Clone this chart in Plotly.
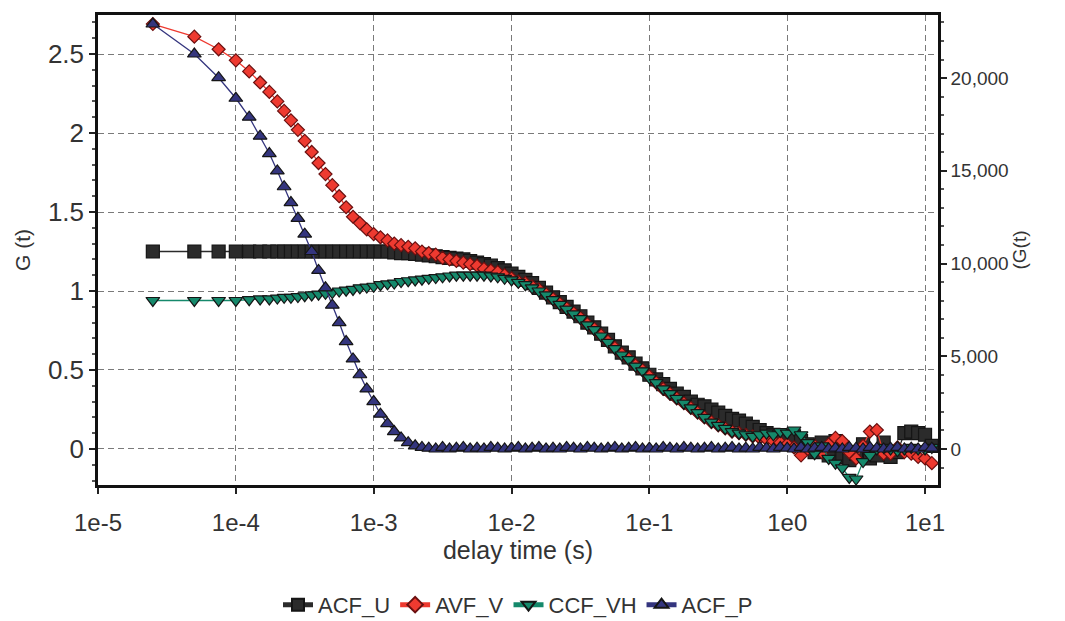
import plotly.graph_objects as go

# ---- data ----
delay_time = [2.5e-5, 5e-5, 7.5e-5, 1e-4, 1.25e-4, 1.5e-4, 1.75e-4, 2e-4,
              2.24e-4, 2.51e-4, 2.82e-4, 3.16e-4, 3.55e-4, 3.98e-4, 4.47e-4, 5.01e-4, 5.62e-4, 6.31e-4, 7.08e-4, 7.94e-4, 8.91e-4,
              1e-3, 1.12e-3, 1.26e-3, 1.41e-3, 1.58e-3, 1.78e-3, 2e-3, 2.24e-3, 2.51e-3, 2.82e-3, 3.16e-3, 3.55e-3, 3.98e-3, 4.47e-3, 5.01e-3, 5.62e-3, 6.31e-3, 7.08e-3, 7.94e-3, 8.91e-3,
              1e-2, 1.12e-2, 1.26e-2, 1.41e-2, 1.58e-2, 1.78e-2, 2e-2, 2.24e-2, 2.51e-2, 2.82e-2, 3.16e-2, 3.55e-2, 3.98e-2, 4.47e-2, 5.01e-2, 5.62e-2, 6.31e-2, 7.08e-2, 7.94e-2, 8.91e-2,
              1e-1, 1.12e-1, 1.26e-1, 1.41e-1, 1.58e-1, 1.78e-1, 2e-1, 2.24e-1, 2.51e-1, 2.82e-1, 3.16e-1, 3.55e-1, 3.98e-1, 4.47e-1, 5.01e-1, 5.62e-1, 6.31e-1, 7.08e-1, 7.94e-1, 8.91e-1,
              1.0, 1.12, 1.26, 1.41, 1.58, 1.78, 2.0, 2.24, 2.51, 2.82, 3.16, 3.55, 3.98, 4.47, 5.01, 5.62, 6.31, 7.08, 7.94, 8.91,
              10.0, 11.2]

acf_u = [1.25, 1.25, 1.25, 1.25, 1.25, 1.25, 1.25, 1.25,
         1.25, 1.25, 1.25, 1.25, 1.25, 1.25, 1.25, 1.25, 1.25, 1.25, 1.25, 1.25, 1.25,
         1.25, 1.25, 1.25, 1.245, 1.24, 1.24, 1.235, 1.23, 1.225, 1.22, 1.215, 1.21, 1.205, 1.20, 1.19, 1.18, 1.17, 1.16, 1.145, 1.13,
         1.11, 1.09, 1.07, 1.05, 1.02, 0.99, 0.96, 0.93, 0.90, 0.87, 0.84, 0.80, 0.77, 0.73, 0.69, 0.65, 0.61, 0.58, 0.54, 0.51,
         0.47, 0.44, 0.41, 0.38, 0.35, 0.33, 0.30, 0.28, 0.27, 0.25, 0.23, 0.21, 0.19, 0.18, 0.16, 0.14, 0.12, 0.10, 0.09, 0.07,
         0.06, 0.08, 0.05, 0.03, -0.02, 0.04, -0.04, 0.05, -0.05, -0.07, -0.03, 0.03, -0.06, -0.04, 0.04, -0.05, -0.02, 0.10, 0.11, 0.10,
         0.09, 0.02]

avf_v = [2.69, 2.61, 2.53, 2.46, 2.39, 2.32, 2.26, 2.20,
         2.14, 2.08, 2.02, 1.95, 1.88, 1.81, 1.74, 1.67, 1.60, 1.53, 1.47, 1.43, 1.39,
         1.36, 1.34, 1.32, 1.30, 1.29, 1.28, 1.27, 1.25, 1.24, 1.23, 1.21, 1.20, 1.19, 1.18, 1.17, 1.16, 1.14, 1.13, 1.12, 1.10,
         1.08, 1.06, 1.05, 1.03, 1.01, 0.98, 0.95, 0.92, 0.89, 0.86, 0.83, 0.79, 0.76, 0.72, 0.68, 0.64, 0.60, 0.57, 0.53, 0.50,
         0.46, 0.42, 0.38, 0.35, 0.32, 0.29, 0.26, 0.23, 0.20, 0.17, 0.15, 0.13, 0.11, 0.10, 0.09, 0.08, 0.07, 0.06, 0.05, 0.04,
         0.03, 0.01, -0.04, 0.0, 0.02, -0.02, 0.03, 0.07, 0.05, -0.02, -0.06, 0.02, 0.11, 0.12, -0.03, -0.03, 0.01, -0.02, -0.03, -0.05,
         -0.06, -0.09]

ccf_vh = [0.94, 0.94, 0.94, 0.94, 0.945, 0.95, 0.95, 0.955,
          0.96, 0.96, 0.965, 0.97, 0.975, 0.98, 0.985, 0.99, 1.00, 1.005, 1.01, 1.02, 1.025,
          1.03, 1.04, 1.045, 1.05, 1.06, 1.065, 1.07, 1.075, 1.08, 1.085, 1.09, 1.095, 1.10, 1.10, 1.10, 1.10, 1.10, 1.095, 1.09, 1.08,
          1.07, 1.055, 1.04, 1.02, 1.00, 0.975, 0.945, 0.915, 0.885, 0.855, 0.825, 0.785, 0.755, 0.715, 0.675, 0.635, 0.595, 0.565, 0.525, 0.495,
          0.45, 0.42, 0.38, 0.35, 0.32, 0.29, 0.26, 0.23, 0.20, 0.17, 0.15, 0.13, 0.11, 0.10, 0.09, 0.08, 0.09, 0.10, 0.09, 0.11,
          0.10, 0.12, 0.09, 0.04, -0.03, 0.02, -0.06, -0.09, -0.12, -0.18, -0.19, -0.08, -0.04, 0.0, 0.01, 0.0, -0.01, 0.0, 0.01, 0.0,
          0.0, 0.01]

acf_p = [2.69, 2.50, 2.35, 2.22, 2.10, 1.98, 1.87, 1.76,
         1.66, 1.56, 1.46, 1.36, 1.25, 1.13, 1.02, 0.91, 0.80, 0.68, 0.57, 0.47, 0.38,
         0.30, 0.22, 0.16, 0.11, 0.07, 0.04, 0.02, 0.01, 0.005, 0.0, 0.01, 0.0, 0.005, 0.01, 0.0, 0.005, 0.0, 0.01, 0.005, 0.0,
         0.005, 0.01, 0.0, 0.005, 0.01, 0.0, 0.005, 0.0, 0.01, 0.005, 0.0, 0.01, 0.005, 0.0, 0.005, 0.01, 0.0, 0.005, 0.01, 0.0,
         0.005, 0.0, 0.01, 0.005, 0.0, 0.01, 0.005, 0.0, 0.005, 0.01, 0.0, 0.005, 0.01, 0.0, 0.005, 0.0, 0.01, 0.005, 0.0, 0.01,
         0.005, 0.0, 0.01, 0.0, 0.005, 0.01, 0.0, 0.005, 0.0, 0.01, 0.005, 0.0, 0.01, 0.005, 0.0, 0.005, 0.01, 0.0, 0.005, 0.0,
         0.01, 0.005]

x_tick_vals = [1e-5, 1e-4, 1e-3, 1e-2, 1e-1, 1e0, 1e1]
x_tick_text = ["1e-5", "1e-4", "1e-3", "1e-2", "1e-1", "1e0", "1e1"]

series_names = ["ACF_U", "AVF_V", "CCF_VH", "ACF_P"]

# ---- figure ----
FONT = "Liberation Sans, Arial, sans-serif"
NARROW = "Liberation Sans Narrow, Arial Narrow, Liberation Sans, sans-serif"
TXT = "#333333"

styles = [
    dict(symbol="square", size=13, color="#2b2b2b", line="#151515"),
    dict(symbol="diamond", size=10, color="#ee3a30", line="#6a1010"),
    dict(symbol="triangle-down", size=12, color="#15896b", line="#151515"),
    dict(symbol="triangle-up", size=12, color="#34357e", line="#151515"),
]
all_series = [acf_u, avf_v, ccf_vh, acf_p]

fig = go.Figure()
for name, ys, st in zip(series_names, all_series, styles):
    fig.add_trace(go.Scatter(
        x=delay_time, y=ys, name=name, mode="lines+markers",
        line=dict(color=st["color"], width=1.3),
        marker=dict(symbol=st["symbol"], size=st["size"], color=st["color"],
                    line=dict(color=st["line"], width=1.2)),
    ))

# empty trace so that the right-hand axis is drawn
fig.add_trace(go.Scatter(x=[], y=[], yaxis="y2", showlegend=False, hoverinfo="skip"))

fig.update_layout(
    width=1065, height=621,
    margin=dict(l=98, r=127, t=15, b=136, autoexpand=False),
    paper_bgcolor="white", plot_bgcolor="white",
    font=dict(family=FONT, size=19, color=TXT),
    showlegend=True,
    legend=dict(orientation="h", x=0.5, xanchor="center",
                yref="container", y=0.026, yanchor="middle",
                font=dict(family=NARROW, size=22, color=TXT), itemwidth=30, tracegroupgap=0,
                itemsizing="constant", bgcolor="rgba(0,0,0,0)"),
    xaxis=dict(
        type="log", range=[-5, 1.094],
        tickvals=x_tick_vals, ticktext=x_tick_text,
        ticks="outside", ticklen=6, tickwidth=1.5, tickcolor="#222",
        ticklabelstandoff=8,
        showline=True, linecolor="#111", linewidth=2.5, mirror=True,
        showgrid=True, gridcolor="#7a7a7a", gridwidth=1.3, griddash="6px,4px",
        zeroline=False,
        tickfont=dict(size=24, color=TXT),
        title=dict(text="delay time (s)", font=dict(size=25, color=TXT), standoff=4),
    ),
    yaxis=dict(
        range=[-0.228, 2.747], dtick=0.5, tick0=0,
        ticks="outside", ticklen=6, tickwidth=1.5, tickcolor="#222",
        minor=dict(dtick=0.1, tick0=0, ticks="outside", ticklen=3, tickcolor="#555", showgrid=False),
        showline=True, linecolor="#111", linewidth=2.5,
        showgrid=True, gridcolor="#7a7a7a", gridwidth=1.3, griddash="6px,4px",
        zeroline=False,
        tickfont=dict(size=26, color=TXT),
        title=dict(text="G (t)", font=dict(size=21, color=TXT), standoff=12),
    ),
    yaxis2=dict(
        overlaying="y", side="right", anchor="x",
        range=[-1940, 23400], dtick=5000, tick0=0, tickformat=",d",
        ticks="outside", ticklen=6, tickwidth=1.5, tickcolor="#222",
        minor=dict(dtick=1000, tick0=0, ticks="outside", ticklen=3, tickcolor="#555", showgrid=False),
        showline=True, linecolor="#111", linewidth=2.5,
        showgrid=False, zeroline=False,
        tickfont=dict(family=NARROW, size=19, color=TXT),
        title=dict(text="(G(t)", font=dict(size=19, color=TXT), standoff=2),
    ),
)

fig.write_html("out.html", config={"displayModeBar": False},
               post_script="document.body.style.margin='0';document.body.style.overflow='hidden';")
